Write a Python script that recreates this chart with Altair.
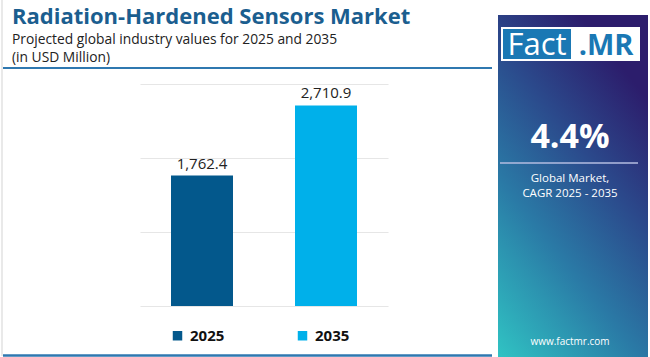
import altair as alt
import pandas as pd

years = ["2025", "2035"]
values = [1762.4, 2710.9]
labels = ["1,762.4", "2,710.9"]
bar_colors = ["#03588c", "#00b0ea"]

title = "Radiation-Hardened Sensors Market"
subtitle1 = "Projected global industry values for 2025 and 2035"
subtitle2 = "(in USD Million)"
cagr = "4.4%"
cagr_l1 = "Global Market,"
cagr_l2 = "CAGR 2025 - 2035"
site = "www.factmr.com"

FONT = "Open Sans"

df = pd.DataFrame({"year": years, "value": values, "label": labels})
one = pd.DataFrame({"a": [0]})

W, H = 248, 222
PL, PT = 140, 84

xenc = alt.X("year:N", title=None, sort=years,
             scale=alt.Scale(paddingInner=0.5, paddingOuter=0.25),
             axis=None)
yenc = alt.Y("value:Q", title=None,
             scale=alt.Scale(domain=[0, 3000], nice=False),
             axis=alt.Axis(values=[0, 500, 1000, 1500, 2000, 2500, 3000],
                           labels=False, ticks=False, domain=False,
                           grid=True, gridColor="#e0e0e0", gridWidth=1,
                           gridOpacity=0.8))

bars = alt.Chart(df).mark_bar().encode(
    x=xenc, y=yenc,
    color=alt.Color("year:N", sort=years,
                    scale=alt.Scale(domain=years, range=bar_colors),
                    legend=alt.Legend(orient="none", direction="horizontal",
                                      legendX=30, legendY=244, title=None,
                                      symbolType="square", symbolSize=90,
                                      symbolStrokeWidth=0, symbolOpacity=1,
                                      labelFont=FONT, labelFontSize=15,
                                      labelFontWeight="bold", labelColor="#111111",
                                      columnPadding=70, labelOffset=5)),
)

vlabels = alt.Chart(df).mark_text(font=FONT, fontSize=15, color="#222222",
                                  baseline="alphabetic", dy=-7).encode(
    x=alt.X("year:N", sort=years), y="value:Q", text="label:N")

def rule(x, x2, y, y2, color, w):
    return alt.Chart(one).mark_rule(color=color, strokeWidth=w).encode(
        x=alt.value(x), x2=alt.value(x2), y=alt.value(y), y2=alt.value(y2))

def rect(x, x2, y, y2, fill, **kw):
    return alt.Chart(one).mark_rect(fill=fill, **kw).encode(
        x=alt.value(x), x2=alt.value(x2), y=alt.value(y), y2=alt.value(y2))

def txt(s, x, y, size, color, weight="normal", align="left", font=FONT):
    return alt.Chart(one).mark_text(text=s, font=font, fontSize=size, color=color,
                                    fontWeight=weight, align=align,
                                    baseline="alphabetic").encode(
        x=alt.value(x), y=alt.value(y))

grad = alt.LinearGradient(
    gradient="linear", x1=0, y1=1, x2=0.55, y2=0,
    stops=[alt.GradientStop(color="#30c3c3", offset=0),
           alt.GradientStop(color="#2a7aa6", offset=0.4),
           alt.GradientStop(color="#2b4a8c", offset=0.7),
           alt.GradientStop(color="#2c1d6c", offset=1)])

# offsets relative to plot origin (PL, PT)
ox, oy = -PL, -PT

layers = [
    rule(ox + 2, ox + 2, oy, oy + 356, "#e2e2e2", 1.5),
    rule(ox + 3, ox + 492, oy + 68, oy + 68, "#2f78b0", 2),
    rule(ox + 3, ox + 492, oy + 355.5, oy + 355.5, "#2f78b0", 2.5),
    rect(ox + 498, ox + 648, oy + 15, oy + 357, grad),
    rect(ox + 501, ox + 640, oy + 27, oy + 61, "#ffffff"),
    rect(ox + 503, ox + 571, oy + 29, oy + 59, "#1a78b4"),
    txt("Fact", ox + 537, oy + 55, 31, "#ffffff", align="center"),
    txt(".MR", ox + 606, oy + 55, 29, "#1a78b4", weight="bold", align="center"),
    txt(cagr, ox + 570, oy + 148, 34, "#ffffff", weight="bold", align="center"),
    rule(ox + 500, ox + 638, oy + 163, oy + 163, "#b5bde0", 1.5),
    txt(cagr_l1, ox + 570, oy + 182, 11.5, "#ffffff", align="center"),
    txt(cagr_l2, ox + 570, oy + 197, 11.5, "#ffffff", align="center"),
    txt(site, ox + 570, oy + 345, 10, "#ffffff", align="center"),
    txt(title, ox + 12, oy + 23.5, 22, "#1b5e8f", weight="bold"),
    txt(subtitle1, ox + 12, oy + 43.5, 13.8, "#222222"),
    txt(subtitle2, ox + 12, oy + 62, 13.8, "#222222"),
    bars, vlabels,
]

chart = alt.layer(*layers).properties(
    width=W, height=H,
    autosize=alt.AutoSizeParams(type="none"),
    padding={"left": PL, "top": PT, "right": 650 - PL - W, "bottom": 357 - PT - H},
    background="#ffffff",
).configure_view(stroke=None)

chart.save("out.html", embed_options={"renderer": "svg", "actions": False})
